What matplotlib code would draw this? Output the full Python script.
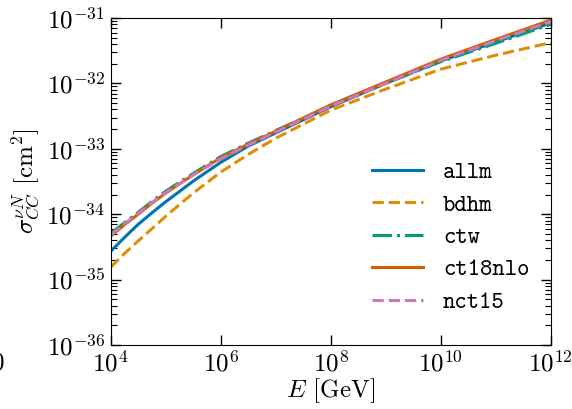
import matplotlib
matplotlib.use('Agg')
import matplotlib.pyplot as plt
import matplotlib.ticker as mticker
import numpy as np

plt.rcParams['font.family'] = 'serif'
plt.rcParams['font.serif'] = ['cmr10']
plt.rcParams['mathtext.fontset'] = 'cm'
plt.rcParams['axes.formatter.use_mathtext'] = True
plt.rcParams['axes.unicode_minus'] = False

# neutrino energies [GeV] (log10)
log_energy = [4, 4.25, 4.5, 4.75, 5, 5.5, 6, 6.5, 7, 8, 9, 10, 11, 12]

# charged-current cross sections [cm^2]
allm = [2.7e-35, 4.4e-35, 7.0e-35, 1.05e-34, 1.55e-34, 3.2e-34, 6.2e-34, 1.1e-33, 1.75e-33, 4.4e-33, 1.0e-32, 2.2e-32, 4.3e-32, 8.4e-32]
bdhm = [1.55e-35, 2.5e-35, 3.9e-35, 6.0e-35, 9.3e-35, 2.1e-34, 4.4e-34, 8.2e-34, 1.45e-33, 3.9e-33, 8.2e-33, 1.65e-32, 2.7e-32, 4.2e-32]
ctw = [5.1e-35, 7.4e-35, 1.07e-34, 1.57e-34, 2.25e-34, 4.2e-34, 7.6e-34, 1.22e-33, 1.9e-33, 4.6e-33, 1.0e-32, 2.15e-32, 4.1e-32, 8.0e-32]
ct18nlo = [4.6e-35, 6.9e-35, 1.0e-34, 1.47e-34, 2.1e-34, 4.0e-34, 7.3e-34, 1.18e-33, 1.85e-33, 4.7e-33, 1.05e-32, 2.35e-32, 4.7e-32, 9.3e-32]
nct15 = [4.8e-35, 7.1e-35, 1.03e-34, 1.5e-34, 2.15e-34, 4.0e-34, 7.0e-34, 1.14e-33, 1.8e-33, 4.5e-33, 1.0e-32, 2.25e-32, 4.5e-32, 8.8e-32]

models = ['allm', 'bdhm', 'ctw', 'ct18nlo', 'nct15']
sigmas = [allm, bdhm, ctw, ct18nlo, nct15]
colors = ['#0173B2', '#DE8F05', '#029E73', '#D55E00', '#CC78BC']
styles = ['-', '--', '-.', '-', '--']

energy = 10.0 ** np.array(log_energy)

fig = plt.figure(figsize=(5.72, 4.09), dpi=100)
ax = fig.add_axes([0.1935, 0.1565, 0.963 - 0.1935, 0.956 - 0.1565])

for name, sig, c, ls in zip(models, sigmas, colors, styles):
    ax.plot(energy, sig, color=c, ls=ls, lw=2.2, label=name)

ax.set_xscale('log')
ax.set_yscale('log')
ax.set_xlim(1e4, 1e12)
ax.set_ylim(1e-36, 1e-31)
ax.xaxis.set_major_locator(mticker.FixedLocator([1e4, 1e6, 1e8, 1e10, 1e12]))
ax.xaxis.set_minor_locator(mticker.NullLocator())
ax.yaxis.set_major_locator(mticker.LogLocator(base=10, numticks=20))
ax.yaxis.set_minor_locator(mticker.LogLocator(base=10, subs=np.arange(2, 10), numticks=20))
ax.yaxis.set_minor_formatter(mticker.NullFormatter())

ax.tick_params(which='both', direction='in', top=True, right=True, labelsize=18)
ax.tick_params(which='major', length=7, width=1, pad=4)
ax.tick_params(which='minor', length=4, width=0.8)

ax.set_xlabel(r'$E$ [GeV]', fontsize=18, labelpad=0)
ax.set_ylabel(r'$\sigma_{CC}^{\nu N}$ [cm$^2$]', fontsize=18, labelpad=3)

ax.legend(loc='lower right', frameon=False, prop={'family': 'cmtt10', 'size': 17},
          handlelength=2.15, handletextpad=0.85, labelspacing=0.42,
          borderaxespad=0.5, bbox_to_anchor=(1.0, 0.03))

# clipped tick label from a neighbouring panel
fig.text(-0.004, 0.112, r'$0$', fontsize=18, ha='center', va='center')

fig.savefig('out.png', dpi=100)
